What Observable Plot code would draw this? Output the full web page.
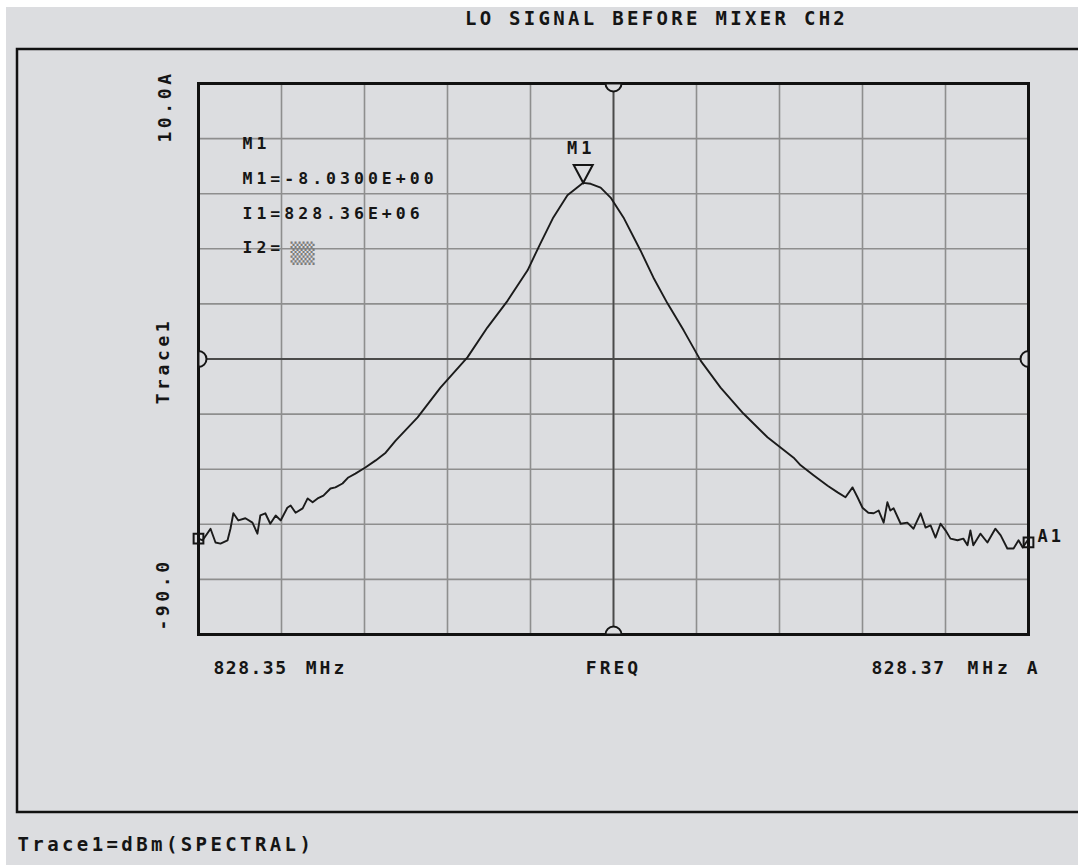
<!DOCTYPE html>
<html><head><meta charset="utf-8">
<script src="https://cdn.jsdelivr.net/npm/d3@7"></script>
<script src="https://cdn.jsdelivr.net/npm/@observablehq/plot@0.6"></script>
<style>
html,body{margin:0;padding:0;background:#ffffff;}
#chart svg{display:block;}
</style></head>
<body><div id="chart"></div>
<script>
// ---------- data ----------
const freqMHz = [
  828.35000, 828.35010, 828.35029, 828.35041, 828.35053, 828.35070, 828.35077, 828.35084,
  828.35096, 828.35113, 828.35130, 828.35142, 828.35149, 828.35161, 828.35173, 828.35186,
  828.35198, 828.35214, 828.35222, 828.35234, 828.35251, 828.35263, 828.35275, 828.35287,
  828.35301, 828.35318, 828.35330, 828.35347, 828.35361, 828.35378, 828.35402, 828.35427,
  828.35451, 828.35475, 828.35528, 828.35583, 828.35648, 828.35696, 828.35745, 828.35793,
  828.35824, 828.35855, 828.35889, 828.35927, 828.35945, 828.35969, 828.35993, 828.36024,
  828.36065, 828.36096, 828.36130, 828.36169, 828.36210, 828.36258, 828.36313, 828.36371,
  828.36434, 828.36451, 828.36482, 828.36516, 828.36540, 828.36559, 828.36576, 828.36588,
  828.36600, 828.36614, 828.36627, 828.36639, 828.36651, 828.36660, 828.36667, 828.36675,
  828.36692, 828.36708, 828.36723, 828.36740, 828.36752, 828.36764, 828.36776, 828.36788,
  828.36800, 828.36812, 828.36829, 828.36843, 828.36853, 828.36860, 828.36867, 828.36884,
  828.36901, 828.36920, 828.36933, 828.36949, 828.36964, 828.36976, 828.36986, 828.36998,
  828.37000
];
const levelDbm = [
  -72.6, -72.9, -70.8, -73.3, -73.5, -72.9, -70.8, -68.0,
  -69.3, -68.9, -69.7, -71.7, -68.4, -68.0, -69.9, -68.4,
  -69.3, -67.0, -66.6, -67.9, -67.1, -65.3, -66.0, -65.3,
  -64.8, -63.5, -63.3, -62.6, -61.5, -60.8, -59.7, -58.4,
  -57.0, -54.8, -50.6, -45.2, -39.7, -34.3, -29.4, -23.9,
  -19.0, -14.3, -10.3, -8.03, -8.2, -8.9, -10.7, -14.3,
  -20.3, -25.2, -29.9, -34.8, -40.3, -45.2, -49.9, -54.2,
  -57.9, -59.3, -61.1, -63.0, -64.2, -65.1, -63.3, -65.1,
  -67.0, -67.9, -68.0, -67.5, -69.7, -66.0, -67.5, -67.1,
  -69.9, -69.7, -70.8, -68.0, -70.6, -70.2, -72.4, -69.9,
  -71.1, -72.6, -72.9, -72.6, -73.8, -71.1, -73.8, -71.7,
  -73.3, -70.8, -72.0, -74.4, -74.4, -72.9, -74.2, -72.9,
  -73.3
];
const xDomain = [828.35, 828.37];
const yDomain = [-90, 10];
const centerFreq = 828.36;
const refLevel = -40;
const markerFreq = 828.35927;
const markerLevel = -8.03;

const titleText = "LO SIGNAL BEFORE MIXER CH2";
const yTopLabel = "10.0A";
const yBottomLabel = "-90.0";
const yTitle = "Trace1";
const xStartLabel = "828.35";
const xStartUnit = "MHz";
const xTitle = "FREQ";
const xStopLabel = "828.37";
const xStopUnit = "MHz A";
const markerName = "M1";
const markerLines = ["M1", "M1=-8.0300E+00", "I1=828.36E+06", "I2="];
const endLabel = "A1";
const footerText = "Trace1=dBm(SPECTRAL)";

// ---------- build ----------
const trace = freqMHz.map((f, i) => ({f, v: levelDbm[i]}));
const BG = "#dcdde0";
const INK = "#151515";
const FONT = "DejaVu Sans Mono";
const spacing = new Map(); // text -> letter-spacing px

function halfDisc(dir) {
  const a = {right: [-Math.PI/2, Math.PI/2], left: [Math.PI/2, 3*Math.PI/2],
             down: [0, Math.PI], up: [Math.PI, 2*Math.PI]}[dir];
  return {draw(ctx, size) {
    const r = Math.sqrt(size / Math.PI);
    ctx.moveTo(r*Math.cos(a[0]), r*Math.sin(a[0]));
    ctx.arc(0, 0, r, a[0], a[1]);
    ctx.closePath();
  }};
}
const downTriangle = {draw(ctx, size) {
  const r = Math.sqrt(size / Math.PI);
  ctx.moveTo(-1.19*r, -1.12*r);
  ctx.lineTo(1.19*r, -1.12*r);
  ctx.lineTo(0, 1.12*r);
  ctx.closePath();
}};

function label(text, opts, ls) {
  spacing.set(text, ls);
  return Plot.text([text], {
    text: d => d, fontFamily: FONT, fontWeight: "bold", fill: INK,
    lineAnchor: "middle", ...opts
  });
}

const markDots = (data, symbol, r, extra = {}) =>
  Plot.dot(data, {x: "f", y: "v", symbol, r, fill: BG, stroke: INK, strokeWidth: 2, ...extra});

const chart = Plot.plot({
  width: 1078,
  height: 865,
  marginLeft: 198,
  marginRight: 50,
  marginTop: 83,
  marginBottom: 231,
  x: {domain: xDomain, axis: null},
  y: {domain: yDomain, axis: null},
  style: {background: "transparent", fontFamily: FONT, overflow: "visible"},
  marks: [
    Plot.gridX({ticks: 10, stroke: "#8e8e8e", strokeOpacity: 1, strokeWidth: 1.6}),
    Plot.gridY({ticks: 10, stroke: "#8e8e8e", strokeOpacity: 1, strokeWidth: 1.6}),
    Plot.ruleX([centerFreq], {stroke: "#4a4a4a", strokeWidth: 1.8}),
    Plot.ruleY([refLevel], {stroke: "#4a4a4a", strokeWidth: 1.8}),
    Plot.line(trace, {x: "f", y: "v", stroke: "#1b1b1b", strokeWidth: 1.9}),
    Plot.frame({stroke: "#111", strokeWidth: 3}),
    // reference markers on the frame edges
    markDots([{f: xDomain[0], v: refLevel}], halfDisc("right"), 8),
    markDots([{f: xDomain[1], v: refLevel}], halfDisc("left"), 8),
    markDots([{f: centerFreq, v: yDomain[1]}], halfDisc("down"), 8),
    markDots([{f: centerFreq, v: yDomain[0]}], halfDisc("up"), 8),
    // start / stop squares
    markDots([trace[0]], "square", 5.5, {fill: "none"}),
    markDots([trace[trace.length - 1]], "square", 5.5, {fill: "none"}),
    label(endLabel, {x: xDomain[1], y: trace[trace.length - 1].v, textAnchor: "start", dx: 9, dy: -6, fontSize: 17}, 3),
    // marker M1
    markDots([{f: markerFreq, v: markerLevel}], downTriangle, 8, {dy: -9}),
    label(markerName, {x: markerFreq, y: markerLevel, dx: -2, dy: -34, fontSize: 17}, 4),
    // marker readout block
    ...markerLines.map((t, i) => label(t, {frameAnchor: "top-left", textAnchor: "start", dx: 44, dy: [60, 95, 130, 164][i], fontSize: 16.5}, 4)),
    Plot.text(["\u2592\u2592"], {text: d => d, frameAnchor: "top-left", textAnchor: "middle", dx: 104, dy: 162, fontSize: 20, fontFamily: FONT, fill: "#7c7c7c"}),
    // y labels (rotated)
    label(yTopLabel, {frameAnchor: "top-left", textAnchor: "middle", rotate: -90, dx: -33, dy: 23, fontSize: 18}, 3.6),
    label(yTitle, {frameAnchor: "left", textAnchor: "middle", rotate: -90, dx: -35, dy: 2, fontSize: 18}, 3.6),
    label(yBottomLabel, {frameAnchor: "bottom-left", textAnchor: "middle", rotate: -90, dx: -35, dy: -40, fontSize: 18}, 3.6),
    // x labels
    label(xStartLabel, {frameAnchor: "bottom-left", textAnchor: "middle", dx: 52, dy: 34, fontSize: 18}, 1.5),
    label(xStartUnit, {frameAnchor: "bottom-left", textAnchor: "middle", dx: 128, dy: 34, fontSize: 18}, 3),
    label(xTitle, {frameAnchor: "bottom", textAnchor: "middle", dx: 0, dy: 34, fontSize: 18}, 3),
    label(xStopLabel, {frameAnchor: "bottom-right", textAnchor: "middle", dx: -120, dy: 34, fontSize: 18}, 1.5),
    label(xStopUnit, {frameAnchor: "bottom-right", textAnchor: "middle", dx: -24, dy: 34, fontSize: 18}, 4),
    // title & footer
    label(titleText, {frameAnchor: "top", textAnchor: "middle", dx: 43, dy: -65, fontSize: 19}, 3.3),
    label(footerText, {frameAnchor: "bottom-left", textAnchor: "start", dx: -181, dy: 210, fontSize: 19}, 3.4)
  ]
});

// letter spacing per label (matched on text content)
d3.select(chart).selectAll("text").each(function() {
  const ls = spacing.get(this.textContent);
  if (ls != null) this.style.letterSpacing = ls + "px";
});
// page background and outer frame
const svg = d3.select(chart);
svg.insert("rect", ":first-child").attr("x", 6).attr("y", 7).attr("width", 1100).attr("height", 900).attr("fill", BG);
svg.append("rect").attr("x", 17).attr("y", 49).attr("width", 1100).attr("height", 763)
  .attr("fill", "none").attr("stroke", "#111").attr("stroke-width", 2.5);
document.getElementById("chart").append(chart);
</script>
</body></html>
